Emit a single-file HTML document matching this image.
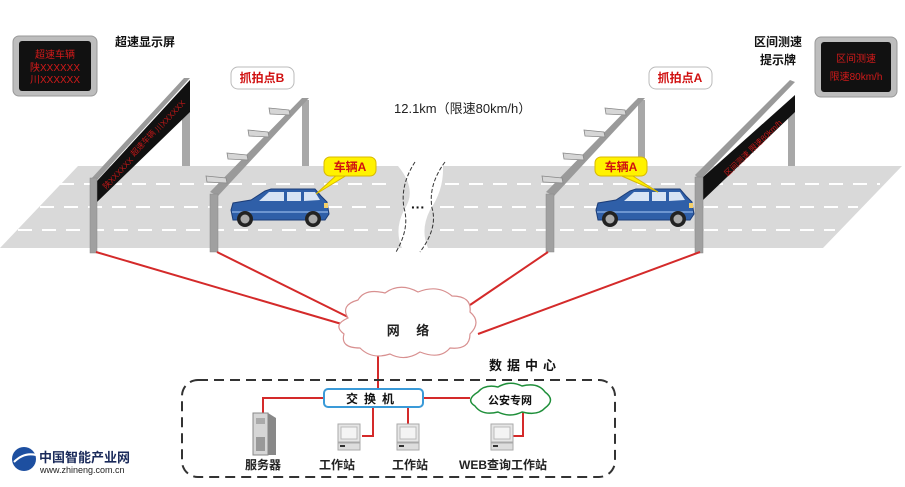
<!DOCTYPE html>
<html><head><meta charset="utf-8"><style>
html,body{margin:0;padding:0;background:#fff;width:905px;height:487px;overflow:hidden}
svg{display:block}
text{font-family:"Liberation Sans","Noto Sans CJK SC",sans-serif}
</style></head><body>
<svg width="905" height="487" viewBox="0 0 905 487" xmlns="http://www.w3.org/2000/svg">
<defs>
<g id="car">
  <path d="M2,22 L4,15 L22,12 L36,3 L42,1 L86,1 L92,8 L98,14 L100,26 L96,32 L4,32 Z" fill="#2f5fa8" stroke="#1c3d78" stroke-width="1"/>
  <path d="M30,13 L40,4 L55,4 L55,13 Z" fill="#d8e4f4"/>
  <path d="M58,4 L72,4 L72,13 L58,13 Z" fill="#d8e4f4"/>
  <path d="M75,4 L86,4 L91,12 L75,13 Z" fill="#d8e4f4"/>
  <path d="M3,24 L99,24" stroke="#6d95d0" stroke-width="2"/>
  <rect x="95" y="15" width="4" height="5" fill="#f4d06a"/>
  <circle cx="16" cy="31" r="8" fill="#222"/><circle cx="16" cy="31" r="4.5" fill="#aaa"/>
  <circle cx="84" cy="31" r="8" fill="#222"/><circle cx="84" cy="31" r="4.5" fill="#aaa"/>
</g>
<g id="cam"><path d="M0,0 L20,2 L21,7 L1,6 Z" fill="#d6d6d6" stroke="#888" stroke-width="0.8"/></g>
<g id="ws">
  <rect x="0" y="0" width="22" height="18" fill="#e6e6e6" stroke="#aaa"/>
  <rect x="3" y="3" width="16" height="12" fill="#f4f4f4" stroke="#bbb"/>
  <rect x="0" y="19" width="22" height="7" fill="#ddd" stroke="#aaa"/>
  <rect x="2" y="21" width="5" height="2" fill="#333"/>
</g>
</defs>

<!-- road -->
<path d="M78,166 L398,166 Q418,190 404,210 Q394,230 402,248 L0,248 Z" fill="#d9d9d9"/>
<path d="M443,166 L902,166 L823,248 L428,248 Q420,230 430,210 Q444,190 443,166 Z" fill="#d9d9d9"/>
<path d="M415,162 Q400,185 404,208 Q410,228 396,252" fill="none" stroke="#333" stroke-dasharray="4,2"/>
<path d="M445,162 Q428,185 432,208 Q438,228 420,252" fill="none" stroke="#333" stroke-dasharray="4,2"/>
<text x="418" y="212" font-size="14" font-weight="bold" text-anchor="middle" fill="#111">···</text>
<g stroke="#fff" stroke-width="2" stroke-dasharray="14,10">
  <line x1="60" y1="184" x2="395" y2="184"/><line x1="40" y1="207" x2="398" y2="207"/><line x1="18" y1="230" x2="400" y2="230"/>
  <line x1="445" y1="184" x2="880" y2="184"/><line x1="440" y1="207" x2="858" y2="207"/><line x1="440" y1="230" x2="835" y2="230"/>
</g>

<!-- left sign gantry -->
<rect x="182" y="98" width="8" height="68" fill="#a8a8a8"/>
<path d="M90,180 L184,78 L190,78 L97,180 Z" fill="#9a9a9a"/>
<path d="M97,181 L190,80 L190,112 L97,202 Z" fill="#111"/>
<text transform="translate(145,145) rotate(-47)" font-size="8" fill="#c01818" text-anchor="middle">超速车辆</text>
<text transform="translate(120,175) rotate(-47)" font-size="8" fill="#c01818" text-anchor="middle">陕XXXXXX</text>
<text transform="translate(172,118) rotate(-47)" font-size="8" fill="#c01818" text-anchor="middle">川XXXXXX</text>
<rect x="90" y="178" width="7" height="75" fill="#a0a0a0" stroke="#888" stroke-width="0.5"/>

<!-- camera gantry B -->
<rect x="302" y="100" width="7" height="66" fill="#a8a8a8"/>
<path d="M210,192 L302,98 L309,98 L218,196 Z" fill="#9a9a9a"/>
<rect x="210" y="194" width="8" height="58" fill="#a0a0a0" stroke="#888" stroke-width="0.5"/>
<use href="#cam" x="206" y="176"/><use href="#cam" x="227" y="153"/><use href="#cam" x="248" y="130"/><use href="#cam" x="269" y="108"/>

<!-- camera gantry A -->
<rect x="638" y="100" width="7" height="66" fill="#a8a8a8"/>
<path d="M546,192 L638,98 L645,98 L554,196 Z" fill="#9a9a9a"/>
<rect x="546" y="194" width="8" height="58" fill="#a0a0a0" stroke="#888" stroke-width="0.5"/>
<use href="#cam" x="542" y="176"/><use href="#cam" x="563" y="153"/><use href="#cam" x="584" y="130"/><use href="#cam" x="605" y="108"/>

<!-- right sign gantry -->
<rect x="788" y="108" width="7" height="58" fill="#a8a8a8"/>
<path d="M695,175 L790,80 L795,82 L700,180 Z" fill="#9a9a9a"/>
<path d="M702,178 L795,95 L795,112 L702,201 Z" fill="#111"/>
<text transform="translate(755,150) rotate(-44)" font-size="8" fill="#c01818" text-anchor="middle">区间测速  限速80km/h</text>

<!-- cars -->
<use href="#car" x="229" y="188"/>
<use href="#car" x="594" y="188"/>
<rect x="695" y="177" width="8" height="76" fill="#a0a0a0" stroke="#888" stroke-width="0.5"/>

<!-- car labels -->
<path d="M340,172 L316,194 L352,172 Z" fill="#fff200" stroke="#d8b800"/>
<rect x="324" y="157" width="52" height="19" rx="6" fill="#fff200" stroke="#d8b800"/>
<text x="350" y="171" font-size="12" font-weight="bold" fill="#d01010" text-anchor="middle">车辆A</text>
<path d="M615,173 L658,192 L628,173 Z" fill="#fff200" stroke="#d8b800"/>
<rect x="595" y="157" width="52" height="19" rx="6" fill="#fff200" stroke="#d8b800"/>
<text x="621" y="171" font-size="12" font-weight="bold" fill="#d01010" text-anchor="middle">车辆A</text>

<!-- sign boxes -->
<rect x="13" y="36" width="84" height="60" rx="6" fill="#bdbdbd" stroke="#999"/>
<rect x="19" y="41" width="72" height="50" rx="3" fill="#111"/>
<text x="55" y="58" font-size="10" fill="#d21a1a" text-anchor="middle">超速车辆</text>
<text x="55" y="71" font-size="10" fill="#d21a1a" text-anchor="middle">陕XXXXXX</text>
<text x="55" y="83" font-size="10" fill="#d21a1a" text-anchor="middle">川XXXXXX</text>
<rect x="815" y="37" width="82" height="60" rx="6" fill="#bdbdbd" stroke="#999"/>
<rect x="821" y="42" width="70" height="50" rx="3" fill="#111"/>
<text x="856" y="62" font-size="10" fill="#d21a1a" text-anchor="middle">区间测速</text>
<text x="856" y="80" font-size="10" fill="#d21a1a" text-anchor="middle">限速80km/h</text>

<text x="115" y="46" font-size="12" font-weight="bold" fill="#111">超速显示屏</text>
<text x="778" y="46" font-size="12" font-weight="bold" fill="#111" text-anchor="middle">区间测速</text>
<text x="778" y="64" font-size="12" font-weight="bold" fill="#111" text-anchor="middle">提示牌</text>
<rect x="231" y="67" width="63" height="22" rx="7" fill="#fff" stroke="#bbb"/>
<text x="262" y="82" font-size="12" font-weight="bold" fill="#d01010" text-anchor="middle">抓拍点B</text>
<rect x="649" y="67" width="63" height="22" rx="7" fill="#fff" stroke="#bbb"/>
<text x="680" y="82" font-size="12" font-weight="bold" fill="#d01010" text-anchor="middle">抓拍点A</text>
<text x="394" y="113" font-size="13" fill="#222">12.1km（限速80km/h）</text>

<!-- red network lines -->
<g stroke="#d42a2a" stroke-width="2" fill="none">
  <line x1="96" y1="252" x2="345" y2="325"/>
  <line x1="217" y1="252" x2="350" y2="318"/>
  <line x1="548" y1="252" x2="470" y2="305"/>
  <line x1="700" y1="252" x2="478" y2="334"/>
  <line x1="378" y1="355" x2="378" y2="390"/>
  <polyline points="324,398 263,398 263,415"/>
  <polyline points="373,407 373,436 362,436"/>
  <line x1="408" y1="407" x2="408" y2="425"/>
  <line x1="423" y1="398" x2="470" y2="398"/>
  <polyline points="523,410 523,436 512,436"/>
</g>

<!-- cloud -->
<path d="M348,318 Q340,305 358,300 Q365,288 385,293 Q400,282 418,292 Q438,284 452,296 Q472,296 470,312 Q482,322 470,334 Q470,350 450,348 Q440,360 420,352 Q405,362 390,354 Q372,360 360,348 Q340,348 344,334 Q332,325 348,318 Z" fill="#fff" stroke="#d89090" stroke-width="1.2"/>
<text x="408" y="335" font-size="13" font-weight="bold" fill="#222" text-anchor="middle">网　 络</text>

<!-- data center -->
<text x="525" y="370" font-size="13" font-weight="bold" fill="#111" text-anchor="middle" letter-spacing="5">数据中心</text>
<rect x="182" y="380" width="433" height="97" rx="16" fill="none" stroke="#333" stroke-width="2" stroke-dasharray="10,6"/>
<rect x="324" y="389" width="99" height="18" rx="4" fill="#fff" stroke="#3a9ad8" stroke-width="2"/>
<text x="373" y="403" font-size="12" font-weight="bold" fill="#111" text-anchor="middle" letter-spacing="6">交换机</text>
<path d="M478,392 Q485,384 498,387 Q510,380 522,386 Q538,382 545,392 Q556,400 545,408 Q538,416 522,412 Q510,418 498,412 Q482,416 475,406 Q465,400 478,392 Z" fill="#fff" stroke="#1f8f3a" stroke-width="1.5"/>
<text x="510" y="404" font-size="11" font-weight="bold" fill="#111" text-anchor="middle">公安专网</text>

<!-- server -->
<path d="M253,413 L268,413 L276,418 L276,455 L253,455 Z" fill="#888"/>
<rect x="253" y="413" width="15" height="42" fill="#d6d6d6" stroke="#888"/>
<rect x="256" y="418" width="9" height="6" fill="#aaa"/>
<rect x="256" y="437" width="9" height="14" fill="#999"/>
<use href="#ws" x="338" y="424"/>
<use href="#ws" x="397" y="424"/>
<use href="#ws" x="491" y="424"/>

<g font-size="12" font-weight="bold" fill="#222" text-anchor="middle">
<text x="263" y="469">服务器</text>
<text x="337" y="469">工作站</text>
<text x="410" y="469">工作站</text>
<text x="503" y="469">WEB查询工作站</text>
</g>

<!-- logo -->
<ellipse cx="24" cy="459" rx="12" ry="12" fill="#1d4fa0"/>
<path d="M14,462 Q24,452 36,455" stroke="#fff" stroke-width="2" fill="none"/>
<text x="39" y="462" font-size="13" font-weight="bold" fill="#1a2a5a">中国智能产业网</text>
<text x="40" y="473" font-size="9" fill="#222">www.zhineng.com.cn</text>
</svg>
</body></html>
